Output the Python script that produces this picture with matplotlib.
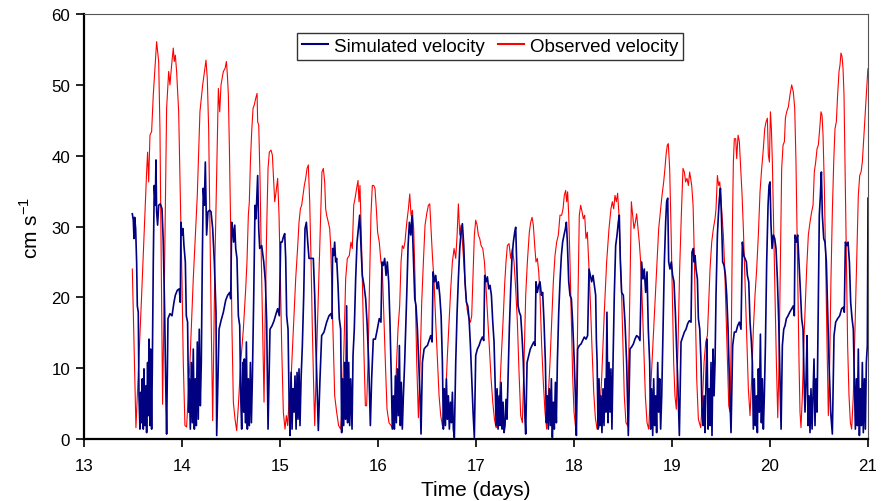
import matplotlib
matplotlib.use('Agg')
import matplotlib.pyplot as plt

plt.rcParams['font.family'] = ['Liberation Sans', 'DejaVu Sans']

# observed velocity (red), (day, cm/s)
observed = [
    (13.493, 24.0), (13.530, 1.6), (13.588, 20.3), (13.639, 37.7), (13.649, 40.5), (13.660, 36.3),
    (13.673, 42.9), (13.690, 43.4), (13.707, 48.6), (13.741, 56.1), (13.762, 53.3), (13.775, 43.8),
    (13.785, 29.7), (13.796, 15.5), (13.802, 4.9), (13.823, 25.0), (13.843, 46.7), (13.864, 51.9),
    (13.877, 50.0), (13.894, 52.8), (13.911, 55.2), (13.921, 53.3), (13.932, 54.2), (13.945, 51.9),
    (13.966, 46.2), (13.986, 32.5), (14.000, 22.2), (14.013, 10.8), (14.030, 1.9), (14.047, 1.7),
    (14.081, 10.8), (14.115, 22.6), (14.156, 34.4), (14.183, 46.2), (14.211, 50.0), (14.234, 52.3),
    (14.245, 53.5), (14.258, 50.9), (14.272, 43.8), (14.285, 29.7), (14.299, 15.5), (14.313, 2.6),
    (14.336, 25.0), (14.360, 41.5), (14.371, 49.5), (14.385, 46.2), (14.398, 50.0), (14.422, 51.9),
    (14.439, 52.3), (14.453, 53.3), (14.463, 51.4), (14.473, 48.6), (14.483, 41.5), (14.497, 29.7),
    (14.510, 15.5), (14.524, 5.2), (14.541, 2.8), (14.558, 1.2), (14.575, 4.7), (14.599, 10.8),
    (14.626, 15.5), (14.650, 21.2), (14.663, 25.0), (14.677, 31.6), (14.687, 33.5), (14.698, 39.1),
    (14.711, 43.4), (14.725, 46.7), (14.738, 47.2), (14.752, 48.1), (14.766, 48.8), (14.772, 44.8),
    (14.783, 44.3), (14.796, 36.8), (14.810, 25.0), (14.823, 15.5), (14.837, 5.2), (14.847, 15.5),
    (14.864, 29.7), (14.878, 38.2), (14.891, 40.5), (14.908, 40.8), (14.922, 40.1), (14.936, 36.3),
    (14.946, 33.5), (14.960, 34.9), (14.976, 36.8), (14.990, 31.6), (15.004, 22.6), (15.017, 13.2),
    (15.034, 3.8), (15.051, 1.4), (15.065, 3.3), (15.078, 1.9), (15.092, 5.2), (15.113, 8.5),
    (15.136, 15.5), (15.160, 22.6), (15.181, 27.3), (15.194, 30.6), (15.208, 32.5), (15.221, 33.0),
    (15.235, 34.4), (15.248, 35.8), (15.262, 36.8), (15.276, 38.2), (15.289, 38.7), (15.303, 33.5),
    (15.317, 25.0), (15.330, 15.5), (15.344, 7.1), (15.354, 1.9), (15.381, 15.5), (15.401, 25.0),
    (15.415, 31.6), (15.428, 37.7), (15.442, 38.2), (15.456, 36.3), (15.466, 32.5), (15.476, 31.6),
    (15.493, 30.6), (15.507, 29.7), (15.517, 27.3), (15.531, 20.3), (15.544, 13.2), (15.558, 6.1),
    (15.578, 3.8), (15.598, 1.9), (15.619, 1.4), (15.636, 5.2), (15.653, 13.2), (15.670, 22.6),
    (15.687, 25.5), (15.707, 25.9), (15.724, 27.8), (15.738, 26.9), (15.752, 33.0), (15.765, 33.9),
    (15.782, 35.4), (15.796, 36.5), (15.806, 33.5), (15.816, 35.8), (15.830, 28.8), (15.843, 20.3),
    (15.857, 11.8), (15.871, 4.7), (15.884, 4.7), (15.898, 10.8), (15.911, 20.3), (15.928, 31.6),
    (15.942, 35.8), (15.956, 35.8), (15.969, 35.4), (15.983, 32.5), (15.996, 29.2), (16.013, 27.8),
    (16.030, 25.0), (16.044, 24.0), (16.058, 17.9), (16.075, 10.8), (16.092, 4.2), (16.112, 2.3),
    (16.133, 1.9), (16.153, 1.4), (16.170, 3.8), (16.187, 9.9), (16.204, 15.5), (16.221, 18.8),
    (16.235, 25.0), (16.248, 27.3), (16.262, 26.9), (16.275, 27.8), (16.293, 30.5), (16.310, 32.5),
    (16.324, 34.6), (16.337, 31.6), (16.351, 32.3), (16.364, 29.7), (16.378, 22.6), (16.395, 10.8),
    (16.412, 3.0), (16.429, 10.4), (16.446, 19.3), (16.463, 25.0), (16.480, 30.2), (16.497, 31.8),
    (16.514, 33.0), (16.528, 33.2), (16.541, 29.7), (16.555, 25.9), (16.572, 22.2), (16.589, 16.5),
    (16.606, 11.3), (16.623, 6.1), (16.640, 3.3), (16.657, 1.9), (16.674, 2.8), (16.691, 6.1),
    (16.708, 11.8), (16.725, 16.5), (16.742, 21.2), (16.759, 25.0), (16.776, 26.9), (16.793, 25.5),
    (16.807, 28.8), (16.820, 33.2), (16.834, 28.8), (16.847, 30.2), (16.861, 27.8), (16.875, 25.0),
    (16.892, 21.2), (16.909, 18.4), (16.926, 17.0), (16.943, 16.5), (16.956, 17.4), (16.970, 23.1),
    (16.983, 28.8), (16.997, 30.9), (17.011, 30.2), (17.024, 28.8), (17.038, 28.3), (17.052, 27.3),
    (17.069, 26.9), (17.086, 25.0), (17.103, 21.2), (17.120, 17.0), (17.137, 12.7), (17.154, 8.5),
    (17.171, 5.2), (17.188, 2.8), (17.205, 1.6), (17.222, 1.9), (17.239, 5.6), (17.256, 11.0),
    (17.279, 17.5), (17.293, 22.0), (17.306, 25.0), (17.320, 27.3), (17.337, 27.6), (17.354, 25.5),
    (17.371, 26.9), (17.388, 25.0), (17.405, 21.2), (17.422, 16.5), (17.439, 9.4), (17.456, 3.3),
    (17.473, 2.3), (17.490, 10.8), (17.507, 20.3), (17.524, 25.0), (17.544, 29.2), (17.558, 30.6),
    (17.572, 31.3), (17.585, 30.2), (17.599, 27.3), (17.612, 25.0), (17.626, 25.5), (17.640, 23.6),
    (17.653, 20.3), (17.670, 13.2), (17.687, 8.0), (17.704, 3.8), (17.721, 1.4), (17.738, 6.1),
    (17.755, 10.8), (17.772, 16.5), (17.789, 22.2), (17.806, 25.9), (17.823, 27.8), (17.840, 28.8),
    (17.857, 31.6), (17.874, 31.6), (17.888, 32.5), (17.901, 34.4), (17.915, 35.1), (17.925, 33.5),
    (17.935, 34.9), (17.946, 31.6), (17.959, 25.0), (17.973, 16.5), (17.986, 8.9), (18.000, 3.8),
    (18.014, 1.9), (18.027, 6.1), (18.041, 20.3), (18.054, 31.6), (18.068, 33.0), (18.082, 32.1),
    (18.095, 31.1), (18.109, 31.6), (18.122, 28.3), (18.136, 29.2), (18.150, 25.0), (18.167, 19.3),
    (18.184, 12.7), (18.201, 6.6), (18.218, 3.0), (18.235, 1.4), (18.255, 1.6), (18.282, 8.5),
    (18.309, 17.9), (18.333, 25.0), (18.357, 29.7), (18.377, 32.5), (18.391, 33.5), (18.405, 32.5),
    (18.418, 34.4), (18.432, 33.5), (18.445, 34.7), (18.459, 31.6), (18.473, 25.9), (18.486, 20.3),
    (18.500, 13.2), (18.513, 6.1), (18.530, 2.3), (18.547, 1.9), (18.564, 15.5), (18.575, 25.0),
    (18.585, 33.5), (18.598, 31.6), (18.612, 29.7), (18.626, 30.6), (18.639, 31.8), (18.653, 29.7),
    (18.666, 27.8), (18.680, 25.0), (18.694, 20.3), (18.711, 13.2), (18.728, 6.1), (18.745, 2.3),
    (18.762, 1.4), (18.779, 6.1), (18.796, 10.8), (18.813, 15.5), (18.830, 20.3), (18.847, 25.0),
    (18.864, 29.7), (18.881, 32.1), (18.898, 34.4), (18.915, 36.3), (18.928, 38.2), (18.939, 40.1),
    (18.952, 41.5), (18.962, 41.7), (18.976, 38.2), (18.990, 29.7), (19.003, 20.3), (19.017, 10.8),
    (19.030, 6.1), (19.044, 4.2), (19.061, 13.2), (19.078, 24.0), (19.095, 31.6), (19.112, 38.2),
    (19.126, 37.7), (19.139, 36.3), (19.153, 36.8), (19.167, 35.8), (19.180, 37.7), (19.201, 35.8),
    (19.215, 33.0), (19.225, 27.3), (19.238, 17.9), (19.252, 8.5), (19.269, 2.8), (19.293, 1.6),
    (19.313, 6.1), (19.327, 10.8), (19.344, 13.7), (19.361, 14.6), (19.374, 19.3), (19.388, 24.0),
    (19.405, 27.8), (19.422, 29.7), (19.439, 31.1), (19.449, 32.5), (19.463, 37.2), (19.476, 35.8),
    (19.487, 36.3), (19.497, 34.4), (19.510, 31.6), (19.524, 28.8), (19.538, 24.0), (19.551, 17.9),
    (19.565, 10.8), (19.579, 4.7), (19.592, 3.8), (19.606, 15.5), (19.616, 29.7), (19.626, 39.1),
    (19.636, 42.4), (19.650, 42.4), (19.660, 39.6), (19.674, 42.9), (19.687, 42.0), (19.701, 38.2),
    (19.715, 34.4), (19.728, 29.7), (19.745, 22.2), (19.762, 14.6), (19.779, 7.1), (19.796, 3.3),
    (19.813, 8.5), (19.830, 15.5), (19.847, 20.3), (19.864, 24.0), (19.881, 28.8), (19.898, 34.9),
    (19.915, 38.2), (19.932, 41.0), (19.946, 43.8), (19.960, 44.8), (19.973, 45.3), (19.983, 40.1),
    (19.994, 39.1), (20.004, 46.2), (20.014, 43.8), (20.024, 39.1), (20.038, 29.7), (20.051, 20.3),
    (20.065, 10.8), (20.079, 3.0), (20.092, 10.8), (20.106, 25.0), (20.119, 38.2), (20.133, 41.5),
    (20.147, 42.0), (20.157, 45.3), (20.170, 46.2), (20.187, 46.9), (20.204, 48.6), (20.221, 50.0),
    (20.238, 49.0), (20.252, 46.7), (20.265, 39.1), (20.275, 29.7), (20.286, 20.3), (20.296, 10.8),
    (20.306, 3.8), (20.316, 1.6), (20.330, 6.1), (20.344, 13.2), (20.357, 17.9), (20.374, 24.0),
    (20.391, 28.8), (20.408, 30.6), (20.425, 32.1), (20.439, 33.0), (20.452, 37.7), (20.466, 39.1),
    (20.480, 41.0), (20.493, 41.5), (20.507, 43.8), (20.520, 46.2), (20.531, 45.7), (20.541, 42.9),
    (20.554, 35.8), (20.568, 25.0), (20.582, 13.2), (20.595, 3.3), (20.609, 10.8), (20.622, 22.6),
    (20.636, 32.1), (20.650, 39.1), (20.663, 43.8), (20.677, 44.8), (20.690, 48.6), (20.704, 51.9),
    (20.714, 52.8), (20.724, 54.5), (20.735, 54.0), (20.745, 52.3), (20.755, 48.6), (20.765, 39.1),
    (20.779, 25.0), (20.792, 13.2), (20.806, 6.1), (20.820, 2.3), (20.833, 1.4), (20.850, 6.1),
    (20.867, 15.5), (20.884, 25.0), (20.901, 34.4), (20.915, 37.2), (20.929, 37.7), (20.942, 39.1),
    (20.956, 42.4), (20.969, 45.3), (20.983, 48.6), (20.997, 51.9), (21.000, 52.3),
]

# simulated velocity (navy)
simulated = [
    (13.493, 31.8), (13.503, 30.9), (13.510, 28.3), (13.517, 31.3), (13.527, 29.7), (13.537, 25.0),
    (13.544, 18.8), (13.554, 17.9), (13.561, 6.1), (13.571, 1.4), (13.578, 6.6), (13.588, 2.3),
    (13.595, 8.5), (13.605, 1.4), (13.612, 9.9), (13.622, 1.9), (13.632, 7.5), (13.639, 0.9),
    (13.649, 10.8), (13.656, 3.3), (13.663, 14.1), (13.673, 1.9), (13.680, 12.7), (13.690, 1.4),
    (13.697, 9.9), (13.707, 25.0), (13.717, 35.8), (13.728, 33.0), (13.734, 39.4), (13.741, 32.1),
    (13.751, 30.2), (13.762, 33.0), (13.779, 33.2), (13.796, 32.5), (13.809, 27.8), (13.823, 17.9),
    (13.833, 8.5), (13.843, 0.7), (13.857, 17.0), (13.877, 17.7), (13.898, 17.4), (13.918, 19.3),
    (13.932, 20.3), (13.952, 21.0), (13.972, 21.2), (13.983, 19.3), (13.989, 30.6), (14.000, 28.8),
    (14.010, 29.7), (14.020, 27.3), (14.034, 25.0), (14.044, 17.4), (14.057, 16.5), (14.068, 3.8),
    (14.074, 8.5), (14.085, 1.4), (14.095, 10.8), (14.105, 2.3), (14.115, 12.7), (14.126, 1.4),
    (14.136, 8.5), (14.146, 1.9), (14.156, 13.7), (14.166, 2.8), (14.176, 15.5), (14.187, 4.7),
    (14.197, 10.8), (14.207, 25.0), (14.217, 35.4), (14.228, 33.0), (14.238, 39.1), (14.251, 28.8),
    (14.265, 32.1), (14.282, 32.3), (14.296, 32.1), (14.313, 29.7), (14.330, 25.0), (14.347, 17.9),
    (14.354, 0.5), (14.378, 15.5), (14.398, 16.7), (14.422, 17.9), (14.446, 19.6), (14.466, 20.3),
    (14.487, 20.7), (14.497, 19.8), (14.507, 30.6), (14.517, 29.7), (14.527, 27.8), (14.538, 30.2),
    (14.548, 26.9), (14.561, 25.5), (14.575, 17.4), (14.589, 16.0), (14.599, 6.1), (14.609, 1.4),
    (14.619, 10.8), (14.630, 3.8), (14.636, 11.3), (14.647, 2.3), (14.657, 13.7), (14.667, 1.4),
    (14.677, 8.5), (14.687, 1.9), (14.698, 10.8), (14.708, 2.3), (14.718, 8.5), (14.732, 20.3),
    (14.745, 33.0), (14.755, 31.1), (14.772, 37.2), (14.783, 29.7), (14.793, 26.9), (14.813, 27.3),
    (14.834, 25.0), (14.851, 22.2), (14.864, 16.5), (14.878, 1.4), (14.898, 15.5), (14.919, 16.0),
    (14.939, 16.7), (14.960, 17.7), (14.976, 18.4), (14.993, 17.4), (15.007, 27.8), (15.021, 27.8),
    (15.034, 28.5), (15.048, 29.0), (15.058, 25.5), (15.068, 17.4), (15.082, 15.5), (15.092, 6.1),
    (15.102, 0.5), (15.113, 9.4), (15.123, 1.4), (15.133, 7.1), (15.143, 3.8), (15.153, 8.9),
    (15.164, 1.4), (15.174, 9.4), (15.184, 2.8), (15.194, 9.9), (15.204, 1.9), (15.215, 8.5),
    (15.228, 13.2), (15.242, 20.3), (15.255, 29.7), (15.269, 30.6), (15.283, 27.8), (15.296, 25.5),
    (15.317, 25.5), (15.340, 25.5), (15.354, 20.3), (15.371, 10.8), (15.391, 1.2), (15.408, 8.5),
    (15.425, 14.6), (15.449, 15.1), (15.476, 16.5), (15.500, 17.4), (15.520, 17.7), (15.530, 17.0),
    (15.537, 26.9), (15.547, 25.9), (15.558, 27.8), (15.568, 25.0), (15.578, 25.5), (15.592, 21.7),
    (15.605, 17.0), (15.619, 15.5), (15.629, 0.9), (15.639, 8.5), (15.650, 1.9), (15.660, 10.8),
    (15.670, 2.8), (15.680, 18.8), (15.690, 2.3), (15.701, 10.8), (15.711, 1.9), (15.721, 8.5),
    (15.735, 1.4), (15.745, 11.8), (15.758, 15.5), (15.772, 22.6), (15.786, 27.8), (15.799, 29.7),
    (15.813, 31.6), (15.826, 27.3), (15.840, 23.1), (15.857, 21.7), (15.874, 19.8), (15.888, 16.5),
    (15.905, 10.8), (15.922, 1.9), (15.935, 8.5), (15.952, 14.1), (15.973, 14.1), (15.993, 15.5),
    (16.013, 17.0), (16.030, 16.5), (16.041, 25.0), (16.054, 24.5), (16.068, 25.5), (16.082, 23.1),
    (16.095, 25.0), (16.109, 22.2), (16.122, 16.5), (16.136, 8.5), (16.146, 1.4), (16.157, 6.1),
    (16.167, 1.4), (16.177, 8.9), (16.187, 2.3), (16.197, 9.9), (16.207, 3.3), (16.218, 13.2),
    (16.228, 1.9), (16.238, 8.0), (16.248, 1.4), (16.259, 6.1), (16.272, 10.8), (16.293, 20.3),
    (16.307, 27.3), (16.320, 30.6), (16.334, 28.8), (16.347, 31.6), (16.361, 25.5), (16.375, 19.8),
    (16.388, 18.8), (16.402, 15.5), (16.415, 10.8), (16.429, 6.1), (16.439, 0.7), (16.453, 10.8),
    (16.470, 12.7), (16.487, 13.0), (16.504, 13.2), (16.521, 13.9), (16.538, 14.6), (16.552, 13.7),
    (16.562, 23.6), (16.576, 22.2), (16.589, 23.1), (16.603, 21.2), (16.616, 22.2), (16.630, 20.3),
    (16.644, 17.4), (16.657, 10.8), (16.667, 1.4), (16.677, 7.1), (16.688, 1.9), (16.698, 8.5),
    (16.708, 2.8), (16.718, 6.1), (16.728, 1.4), (16.739, 5.2), (16.749, 2.3), (16.759, 6.6),
    (16.769, 1.4), (16.779, 0.2), (16.793, 10.8), (16.807, 17.9), (16.820, 22.6), (16.834, 26.9),
    (16.847, 29.2), (16.861, 30.4), (16.875, 27.3), (16.888, 22.2), (16.902, 19.3), (16.916, 18.8),
    (16.929, 17.0), (16.943, 13.2), (16.956, 8.5), (16.970, 3.8), (16.983, 0.2), (16.997, 11.8),
    (17.014, 12.7), (17.031, 13.2), (17.048, 13.9), (17.065, 14.4), (17.079, 13.9), (17.089, 23.1),
    (17.103, 22.2), (17.116, 22.9), (17.130, 21.2), (17.143, 21.7), (17.157, 20.3), (17.171, 16.5),
    (17.184, 13.7), (17.194, 8.5), (17.205, 1.9), (17.215, 7.1), (17.225, 1.4), (17.236, 6.1),
    (17.245, 1.9), (17.256, 8.0), (17.266, 1.4), (17.276, 5.2), (17.286, 0.9), (17.296, 1.9),
    (17.306, 5.6), (17.316, 2.8), (17.327, 8.5), (17.340, 15.5), (17.354, 21.2), (17.367, 25.5),
    (17.381, 27.8), (17.395, 29.2), (17.405, 29.9), (17.415, 25.0), (17.429, 18.8), (17.442, 17.9),
    (17.456, 17.4), (17.469, 14.6), (17.483, 10.8), (17.497, 3.8), (17.507, 0.7), (17.521, 10.8),
    (17.538, 11.8), (17.554, 12.7), (17.572, 13.2), (17.589, 13.7), (17.602, 13.2), (17.612, 22.2),
    (17.626, 20.7), (17.640, 21.7), (17.653, 22.2), (17.667, 20.3), (17.680, 20.7), (17.694, 16.5),
    (17.708, 10.8), (17.718, 2.3), (17.728, 6.1), (17.738, 1.4), (17.748, 7.1), (17.759, 1.9),
    (17.769, 8.5), (17.779, 0.2), (17.789, 5.2), (17.799, 1.4), (17.810, 8.0), (17.820, 2.3),
    (17.830, 10.8), (17.844, 17.9), (17.857, 22.2), (17.871, 25.9), (17.884, 27.8), (17.898, 28.8),
    (17.912, 29.7), (17.922, 30.6), (17.932, 27.8), (17.946, 22.2), (17.959, 20.3), (17.973, 19.8),
    (17.986, 16.5), (18.000, 11.8), (18.014, 6.1), (18.024, 0.5), (18.037, 12.7), (18.054, 13.2),
    (18.071, 13.4), (18.088, 13.9), (18.105, 14.4), (18.122, 14.1), (18.139, 14.6), (18.153, 24.0),
    (18.167, 23.1), (18.180, 22.2), (18.194, 23.1), (18.207, 21.7), (18.221, 20.3), (18.228, 14.1),
    (18.236, 10.8), (18.245, 1.4), (18.255, 8.5), (18.265, 1.9), (18.275, 6.1), (18.285, 0.9),
    (18.296, 7.1), (18.306, 1.9), (18.316, 8.5), (18.326, 3.8), (18.336, 17.9), (18.347, 2.3),
    (18.357, 10.8), (18.367, 3.8), (18.377, 9.9), (18.387, 1.4), (18.398, 10.8), (18.411, 20.3),
    (18.425, 27.3), (18.439, 28.8), (18.452, 30.6), (18.462, 31.6), (18.473, 25.0), (18.486, 20.7),
    (18.503, 20.3), (18.520, 16.5), (18.537, 10.8), (18.554, 0.5), (18.571, 12.7), (18.588, 13.0),
    (18.605, 13.4), (18.622, 14.1), (18.639, 14.6), (18.656, 14.4), (18.673, 13.9), (18.690, 25.0),
    (18.704, 22.6), (18.717, 24.0), (18.731, 20.7), (18.745, 23.6), (18.758, 15.5), (18.772, 10.8),
    (18.782, 1.4), (18.792, 7.1), (18.803, 0.5), (18.813, 8.5), (18.823, 1.9), (18.833, 6.1),
    (18.843, 0.9), (18.854, 10.8), (18.864, 3.8), (18.874, 8.5), (18.884, 1.4), (18.895, 6.1),
    (18.908, 15.5), (18.922, 25.0), (18.935, 30.6), (18.945, 33.5), (18.956, 34.0), (18.966, 25.0),
    (18.979, 24.0), (18.993, 25.0), (19.006, 23.1), (19.020, 22.2), (19.034, 17.9), (19.047, 12.7),
    (19.061, 7.1), (19.075, 0.5), (19.092, 13.7), (19.109, 14.4), (19.126, 15.1), (19.143, 15.5),
    (19.160, 16.3), (19.177, 16.7), (19.194, 16.5), (19.204, 26.4), (19.218, 26.9), (19.225, 25.0),
    (19.235, 25.9), (19.245, 24.0), (19.259, 22.6), (19.269, 17.0), (19.283, 15.5), (19.296, 10.8),
    (19.306, 3.8), (19.317, 1.9), (19.327, 6.1), (19.337, 0.9), (19.347, 8.5), (19.357, 14.1),
    (19.368, 1.4), (19.378, 7.1), (19.388, 1.9), (19.398, 10.8), (19.408, 0.5), (19.419, 12.7),
    (19.429, 6.1), (19.439, 10.8), (19.449, 20.3), (19.463, 28.8), (19.473, 31.6), (19.483, 33.9),
    (19.494, 35.4), (19.504, 31.6), (19.517, 25.0), (19.531, 24.5), (19.545, 23.1), (19.558, 20.3),
    (19.572, 15.5), (19.585, 8.5), (19.602, 0.9), (19.619, 13.2), (19.636, 15.1), (19.653, 15.1),
    (19.670, 16.0), (19.687, 16.5), (19.704, 15.5), (19.718, 27.8), (19.732, 25.9), (19.745, 25.5),
    (19.759, 25.0), (19.769, 23.1), (19.783, 22.2), (19.796, 16.5), (19.810, 13.7), (19.820, 10.8),
    (19.830, 1.4), (19.840, 8.5), (19.851, 1.9), (19.861, 6.1), (19.871, 0.9), (19.881, 9.9),
    (19.891, 3.8), (19.902, 14.8), (19.912, 2.3), (19.922, 8.5), (19.932, 1.4), (19.942, 6.1),
    (19.953, 13.2), (19.966, 25.0), (19.980, 33.0), (19.990, 35.8), (20.000, 36.3), (20.010, 30.2),
    (20.021, 26.9), (20.034, 28.8), (20.048, 28.3), (20.061, 26.9), (20.075, 22.6), (20.089, 16.5),
    (20.102, 8.5), (20.113, 1.4), (20.126, 13.2), (20.140, 15.5), (20.153, 16.0), (20.167, 17.0),
    (20.184, 17.4), (20.201, 17.9), (20.221, 18.4), (20.238, 18.8), (20.248, 17.4), (20.255, 28.8),
    (20.269, 27.8), (20.282, 28.8), (20.296, 25.0), (20.309, 21.2), (20.323, 17.0), (20.337, 15.5),
    (20.347, 8.5), (20.357, 3.8), (20.367, 8.0), (20.378, 14.6), (20.388, 1.9), (20.398, 6.1),
    (20.408, 0.9), (20.418, 7.1), (20.429, 1.4), (20.439, 6.1), (20.449, 11.3), (20.459, 1.9),
    (20.469, 8.5), (20.480, 3.8), (20.493, 20.3), (20.503, 31.6), (20.514, 34.4), (20.524, 37.7),
    (20.534, 31.6), (20.548, 28.3), (20.561, 27.8), (20.575, 25.0), (20.588, 17.9), (20.602, 10.8),
    (20.619, 3.8), (20.636, 0.7), (20.653, 14.6), (20.670, 16.5), (20.690, 17.0), (20.711, 17.4),
    (20.731, 18.4), (20.748, 18.6), (20.758, 17.9), (20.769, 27.8), (20.782, 27.3), (20.796, 27.8),
    (20.810, 25.0), (20.823, 19.3), (20.837, 17.0), (20.850, 15.5), (20.860, 8.5), (20.871, 1.4),
    (20.881, 8.5), (20.891, 1.9), (20.901, 12.7), (20.912, 0.5), (20.922, 7.1), (20.932, 1.9),
    (20.942, 10.8), (20.952, 0.9), (20.963, 8.5), (20.973, 1.4), (20.983, 10.8), (20.993, 13.2),
    (21.000, 34.0),
]

sim_t, sim_v = zip(*simulated)
obs_t, obs_v = zip(*observed)

fig = plt.figure(figsize=(8.87, 5.02), dpi=100)
ax = fig.add_axes([0.0947, 0.1235, 0.8839, 0.8465])

ax.plot(sim_t, sim_v, color='#000080', lw=1.2, label='Simulated velocity', zorder=3)
ax.plot(obs_t, obs_v, color='#ff0000', lw=0.8, label='Observed velocity', zorder=2)

ax.set_xlim(13, 21)
ax.set_ylim(0, 60)
ax.set_xticks(range(13, 22))
ax.set_yticks(range(0, 61, 10))
ax.tick_params(direction='out', length=6, width=1.2, labelsize=12.2, colors='black')
ax.tick_params(axis='y', pad=4)
ax.tick_params(axis='x', pad=8)

for s in ['left', 'bottom']:
    ax.spines[s].set_linewidth(1.6)
for s in ['top', 'right']:
    ax.spines[s].set_linewidth(0.8)
    ax.spines[s].set_color('#555555')

ax.set_xlabel('Time (days)', fontsize=15, labelpad=5)
ax.set_ylabel('cm s$^{\\mathregular{-1}}$', fontsize=15, labelpad=7)

leg = ax.legend(loc='upper center', bbox_to_anchor=(0.518, 0.955), ncol=2, fontsize=13.5,
                frameon=True, fancybox=False, edgecolor='black', handlelength=1.4,
                handletextpad=0.3, columnspacing=0.7, borderpad=0.25, borderaxespad=0)
leg.get_frame().set_linewidth(1.0)
for line in leg.get_lines():
    line.set_linewidth(1.5)

fig.savefig('out.png', dpi=100)
